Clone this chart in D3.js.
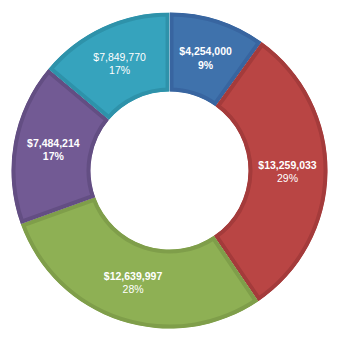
<!DOCTYPE html>
<html>
<head>
<meta charset="utf-8">
<script src="https://cdn.jsdelivr.net/npm/d3@7"></script>
<style>
  html, body { margin: 0; padding: 0; background: #ffffff; }
  svg { display: block; }
</style>
</head>
<body>
<div id="chart"></div>
<script>
// Data
const categories = ["A", "B", "C", "D", "E"];
// slice sizes as drawn (share of the ring, %)
const shares = [9.9, 30.6, 29.0, 16.6, 13.9];
const amountLabels = ["$4,254,000", "$13,259,033", "$12,639,997", "$7,484,214", "$7,849,770"];
const percentLabels = ["9%", "29%", "28%", "17%", "17%"];
const fillColors = ["#3F72AC", "#B94544", "#8EB054", "#725A94", "#36A3BD"];
const edgeColors = ["#3865A0", "#A43B3B", "#7F9E4A", "#634E83", "#2E92AA"];
const amountBold = [true, true, true, true, false];
const percentBold = [true, false, false, true, false];

const W = 338, H = 341;
const cx = 169.5, cy = 170.5;
const outerR = 158, innerR = 79;

const svg = d3.select("#chart").append("svg")
  .attr("width", W).attr("height", H);

const data = categories.map((c, i) => ({
  cat: c, share: shares[i], amount: amountLabels[i], pct: percentLabels[i],
  fill: fillColors[i], edge: edgeColors[i], ab: amountBold[i], pb: percentBold[i]
}));

const pie = d3.pie().sort(null).value(d => d.share).startAngle(0).endAngle(2 * Math.PI);
const arc = d3.arc().innerRadius(innerR).outerRadius(outerR);
const labelArc = d3.arc().innerRadius(118).outerRadius(118);

const arcs = pie(data);
const g = svg.append("g").attr("transform", `translate(${cx},${cy})`);
const defs = svg.append("defs");

arcs.forEach((a, i) => {
  defs.append("clipPath").attr("id", "clip" + i)
    .append("path").attr("d", arc(a));
});

g.selectAll("path.slice")
  .data(arcs)
  .join("path")
  .attr("class", "slice")
  .attr("d", arc)
  .attr("fill", d => d.data.fill)
  .attr("stroke", d => d.data.edge)
  .attr("stroke-width", 8)
  .attr("stroke-linejoin", "miter")
  .attr("clip-path", (d, i) => `url(#clip${i})`);

const labels = g.selectAll("g.label")
  .data(arcs)
  .join("g")
  .attr("class", "label")
  .attr("transform", d => {
    const [x, y] = labelArc.centroid(d);
    return `translate(${x},${y})`;
  });

labels.append("text")
  .attr("text-anchor", "middle")
  .attr("y", -3)
  .attr("font-family", "'Liberation Sans', Arial, sans-serif")
  .attr("font-size", 10.5)
  .attr("font-weight", d => d.data.ab ? "bold" : "normal")
  .attr("fill", "#ffffff")
  .text(d => d.data.amount);

labels.append("text")
  .attr("text-anchor", "middle")
  .attr("y", 10.5)
  .attr("font-family", "'Liberation Sans', Arial, sans-serif")
  .attr("font-size", 10.5)
  .attr("font-weight", d => d.data.pb ? "bold" : "normal")
  .attr("fill", "#ffffff")
  .text(d => d.data.pct);
</script>
</body>
</html>
